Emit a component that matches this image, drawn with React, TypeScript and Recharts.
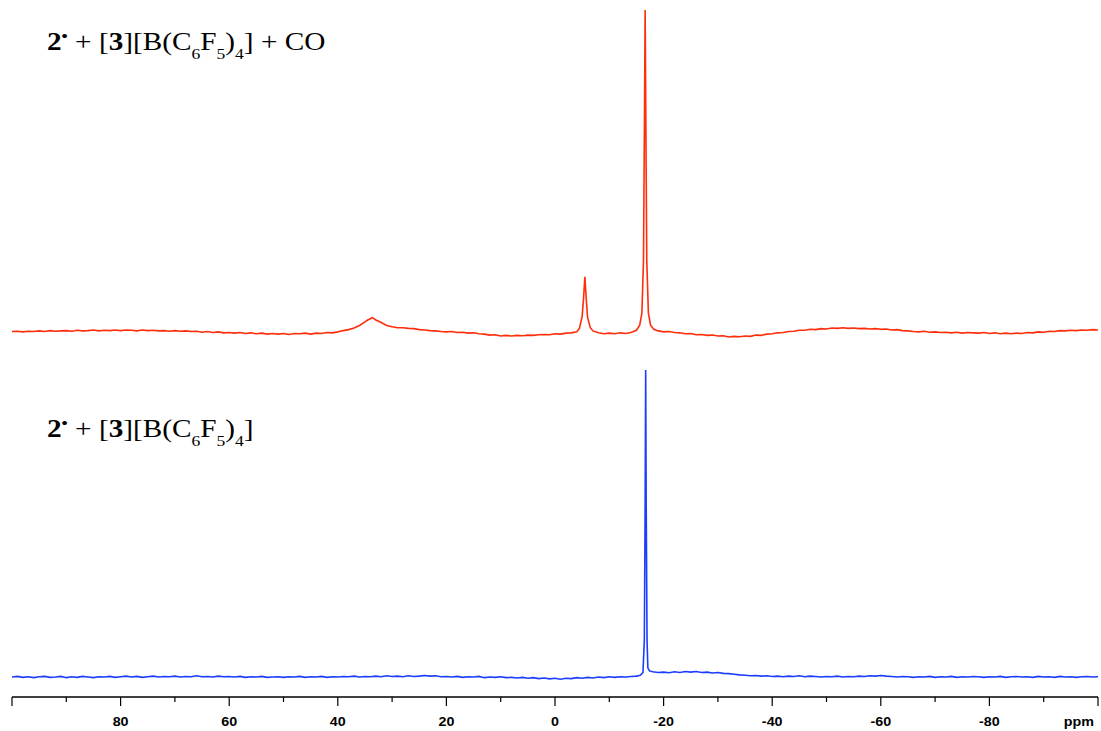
import React from "react";
import { LineChart, Line, XAxis, YAxis } from "recharts";

// chemical shift (ppm) / intensity pairs
const redTrace: [number, number][] = [
  [100, -0.2], [99, -0.1], [98, -0.3], [97, -0.1], [96, -0.2], [95, 0.0], [94, -0.2], [93, 0.1], [92, -0.1], [91, 0.0],
  [90, 0.1], [89, -0.1], [88, 0.2], [87, 0.0], [86, 0.1], [85, 0.3], [84, 0.0], [83, 0.2], [82, 0.1], [81, 0.3],
  [80, 0.1], [79, 0.3], [78, 0.2], [77, 0.0], [76, 0.3], [75, 0.1], [74, 0.2], [73, 0.0], [72, 0.1], [71, -0.1],
  [70, 0.1], [69, -0.1], [68, 0.0], [67, -0.2], [66, -0.1], [65, -0.4], [64, -0.2], [63, -0.5], [62, -0.3], [61, -0.6],
  [60, -0.5], [59, -0.7], [58, -0.5], [57, -0.8], [56, -0.6], [55, -0.9], [54, -0.7], [53, -1.0], [52, -0.8], [51, -1.0],
  [50, -0.8], [49, -1.1], [48, -0.8], [47, -0.9], [46, -0.7], [45, -1.0], [44, -0.7], [43, -0.8], [42, -0.5], [41, -0.6],
  [40, -0.3], [39, 0.1], [38, 0.4], [37, 0.9], [36, 1.7], [35, 2.8], [34.5, 3.4], [34, 3.8], [33.7, 4.1], [33.4, 3.9],
  [33, 3.4], [32, 2.6], [31, 1.7], [30, 1.3], [29, 1.0], [28, 1.0], [27, 0.8], [26, 0.7], [25, 0.4], [24, 0.3],
  [23, 0.1], [22, 0.0], [21, -0.2], [20, -0.3], [19, -0.2], [18, -0.5], [17, -0.4], [16, -0.7], [15, -0.6], [14, -0.9],
  [13, -1.0], [12, -1.3], [11, -1.2], [10, -1.6], [9, -1.4], [8, -1.6], [7, -1.4], [6, -1.5], [5, -1.3], [4, -1.4],
  [3, -1.2], [2, -1.1], [1, -1.2], [0, -0.9], [-1, -1.0], [-2, -0.7], [-3, -0.6], [-4, -0.3],
  [-4.5, 0.8], [-5, 4.5], [-5.25, 10], [-5.5, 16.9], [-5.75, 10], [-6, 4.2], [-6.5, 1.0], [-7, 0.0],
  [-8, -0.6], [-9, -0.9], [-10, -0.7], [-11, -0.9], [-12, -0.6], [-13, -0.8], [-14, -0.5], [-15, 0.2],
  [-15.6, 1.8], [-16, 5.5], [-16.3, 22], [-16.45, 60], [-16.6, 100], [-16.75, 60], [-16.9, 22], [-17.2, 5.5], [-17.6, 1.8], [-18.2, 0.5],
  [-19, 0.0], [-20, -0.3], [-21, -0.2], [-22, -0.5], [-23, -0.6], [-24, -0.9], [-25, -0.8], [-26, -1.2], [-27, -1.1], [-28, -1.4],
  [-29, -1.3], [-30, -1.6], [-31, -1.5], [-32, -1.9], [-33, -1.7], [-34, -1.8], [-35, -1.6], [-36, -1.7], [-37, -1.3], [-38, -1.4],
  [-39, -1.0], [-40, -0.9], [-41, -0.6], [-42, -0.5], [-43, -0.2], [-44, -0.1], [-45, 0.2], [-46, 0.2], [-47, 0.5], [-48, 0.4],
  [-49, 0.7], [-50, 0.6], [-51, 0.9], [-52, 0.8], [-53, 1.0], [-54, 0.8], [-55, 0.9], [-56, 0.7], [-57, 0.8], [-58, 0.6],
  [-59, 0.7], [-60, 0.5], [-61, 0.6], [-62, 0.3], [-63, 0.4], [-64, 0.1], [-65, 0.0], [-66, -0.2], [-67, -0.3], [-68, -0.1],
  [-69, -0.4], [-70, -0.3], [-71, -0.5], [-72, -0.4], [-73, -0.6], [-74, -0.4], [-75, -0.7], [-76, -0.5], [-77, -0.6], [-78, -0.7],
  [-79, -0.5], [-80, -0.8], [-81, -0.6], [-82, -0.9], [-83, -0.7], [-84, -0.9], [-85, -0.7], [-86, -0.8], [-87, -0.5], [-88, -0.6],
  [-89, -0.3], [-90, -0.4], [-91, -0.1], [-92, -0.2], [-93, 0.1], [-94, 0.0], [-95, 0.2], [-96, 0.1], [-97, 0.3], [-98, 0.2],
  [-99, 0.4], [-100, 0.3],
];

const blueTrace: [number, number][] = [
  [100, 0.0], [99, 0.2], [98, -0.1], [97, 0.1], [96, -0.2], [95, 0.1], [94, 0.2], [93, -0.1], [92, 0.0], [91, 0.2],
  [90, -0.2], [89, 0.1], [88, -0.1], [87, 0.2], [86, 0.0], [85, -0.2], [84, 0.1], [83, 0.0], [82, 0.2], [81, -0.1],
  [80, 0.1], [79, 0.3], [78, 0.0], [77, 0.2], [76, -0.1], [75, 0.1], [74, 0.3], [73, 0.0], [72, 0.2], [71, 0.1],
  [70, 0.3], [69, 0.0], [68, 0.2], [67, 0.1], [66, 0.4], [65, 0.1], [64, 0.2], [63, 0.0], [62, 0.3], [61, 0.1],
  [60, 0.2], [59, 0.0], [58, 0.2], [57, -0.1], [56, 0.1], [55, 0.0], [54, 0.2], [53, -0.1], [52, 0.0], [51, 0.1],
  [50, -0.1], [49, 0.1], [48, 0.0], [47, 0.2], [46, -0.1], [45, 0.1], [44, 0.0], [43, 0.2], [42, -0.1], [41, 0.1],
  [40, 0.0], [39, 0.2], [38, 0.1], [37, 0.3], [36, 0.0], [35, 0.2], [34, 0.1], [33, 0.3], [32, 0.1], [31, 0.4],
  [30, 0.2], [29, 0.3], [28, 0.1], [27, 0.4], [26, 0.2], [25, 0.3], [24, 0.5], [23, 0.3], [22, 0.4], [21, 0.1],
  [20, 0.2], [19, 0.0], [18, 0.2], [17, -0.1], [16, 0.1], [15, 0.0], [14, 0.2], [13, -0.2], [12, 0.0], [11, -0.1],
  [10, 0.1], [9, -0.2], [8, -0.1], [7, -0.3], [6, -0.1], [5, -0.4], [4, -0.2], [3, -0.5], [2, -0.3], [1, -0.6],
  [0, -0.4], [-1, -0.7], [-2, -0.4], [-3, -0.5], [-4, -0.2], [-5, -0.4], [-6, -0.1], [-7, -0.3], [-8, 0.0], [-9, -0.2],
  [-10, 0.1], [-11, -0.1], [-12, 0.1], [-13, 0.0], [-14, 0.2], [-15, 0.3], [-15.7, 0.6], [-16.2, 1.5],
  [-16.45, 12], [-16.6, 55], [-16.7, 100], [-16.8, 55], [-16.95, 12], [-17.1, 3.0], [-17.4, 2.0],
  [-18, 1.7], [-19, 1.5], [-20, 1.6], [-21, 1.4], [-22, 1.7], [-23, 1.5], [-24, 1.8], [-25, 1.6], [-26, 1.8], [-27, 1.5],
  [-28, 1.6], [-29, 1.3], [-30, 1.5], [-31, 1.2], [-32, 1.1], [-33, 0.9], [-34, 0.7], [-35, 0.6], [-36, 0.4], [-37, 0.5],
  [-38, 0.3], [-39, 0.4], [-40, 0.2], [-41, 0.3], [-42, 0.1], [-43, 0.3], [-44, 0.2], [-45, 0.4], [-46, 0.1], [-47, 0.3],
  [-48, 0.2], [-49, 0.0], [-50, 0.2], [-51, 0.1], [-52, 0.3], [-53, 0.0], [-54, 0.2], [-55, 0.1], [-56, 0.3], [-57, 0.2],
  [-58, 0.4], [-59, 0.3], [-60, 0.5], [-61, 0.3], [-62, 0.2], [-63, 0.0], [-64, 0.2], [-65, 0.1], [-66, -0.1], [-67, 0.1],
  [-68, 0.0], [-69, 0.2], [-70, -0.1], [-71, 0.1], [-72, 0.0], [-73, 0.2], [-74, -0.1], [-75, 0.1], [-76, 0.0], [-77, 0.2],
  [-78, 0.1], [-79, -0.1], [-80, 0.1], [-81, 0.0], [-82, 0.2], [-83, -0.1], [-84, 0.1], [-85, 0.2], [-86, 0.0], [-87, 0.1],
  [-88, -0.1], [-89, 0.2], [-90, 0.0], [-91, 0.1], [-92, -0.1], [-93, 0.2], [-94, 0.0], [-95, 0.1], [-96, -0.1], [-97, 0.1],
  [-98, 0.2], [-99, 0.0], [-100, 0.1],
];

const axisTicks = [100, 90, 80, 70, 60, 50, 40, 30, 20, 10, 0, -10, -20, -30, -40, -50, -60, -70, -80, -90, -100];
const axisLabels = [80, 60, 40, 20, 0, -20, -40, -60, -80];
const axisUnit = "ppm";

const RED = "#ff2d0a";
const BLUE = "#1c3cff";
const W = 1101;
const STRETCH = 1.17;

const toRows = (trace: [number, number][]) => trace.map(([ppm, v]) => ({ ppm, v }));

const AxisTick = (props: any) => {
  const { x, y, payload } = props;
  const value = payload.value;
  const major = value % 20 === 0;
  const labelStyle = {
    fontFamily: '"Liberation Sans", Arial, sans-serif',
    fontWeight: 700,
    fontSize: 13,
    fill: "#000",
  };
  return (
    <g>
      <line x1={x} y1={y} x2={x} y2={y + (major ? 9 : 5)} stroke="#000" strokeWidth={1.2} />
      {axisLabels.includes(value) && (
        <text transform={`translate(${x},${y + 29}) scale(1.1,1)`} textAnchor="middle" style={labelStyle}>
          {String(value)}
        </text>
      )}
      {value === -100 && (
        <text transform={`translate(${x - 4},${y + 29}) scale(1.1,1)`} textAnchor="end" style={labelStyle}>
          {axisUnit}
        </text>
      )}
    </g>
  );
};

const sub = { fontSize: 15, position: "relative" as const, top: 9 };
const dot = { fontSize: 15, fontWeight: 700, position: "relative" as const, top: -9 };

const labelBox = (top: number) => ({
  position: "absolute" as const,
  left: 47,
  top,
  fontFamily: '"Liberation Serif", "Times New Roman", serif',
  fontSize: 25,
  lineHeight: "25px",
  whiteSpace: "nowrap" as const,
  transform: `scaleX(${STRETCH})`,
  transformOrigin: "0 0",
  color: "#000",
});

const Formula = ({ withCO }: { withCO: boolean }) => (
  <>
    <b>2</b>
    <span style={dot}>•</span>
    {" + ["}
    <b>3</b>
    {"][B(C"}
    <span style={sub}>6</span>
    {"F"}
    <span style={sub}>5</span>
    {")"}
    <span style={sub}>4</span>
    {"]"}
    {withCO ? " + CO" : ""}
  </>
);

export default function App() {
  return (
    <div style={{ position: "absolute", left: 0, top: 0, width: W, height: 731, background: "#fff" }}>
      <div style={{ position: "absolute", left: 0, top: 0 }}>
        <LineChart width={W} height={365} data={toRows(redTrace)} margin={{ top: 10, right: 3, left: 12, bottom: 2 }}>
          <XAxis dataKey="ppm" type="number" domain={[-100, 100]} reversed allowDataOverflow hide />
          <YAxis type="number" domain={[-10, 100]} allowDataOverflow hide />
          <Line type="linear" dataKey="v" stroke={RED} strokeWidth={1.6} dot={false} isAnimationActive={false} />
        </LineChart>
      </div>
      <div style={{ position: "absolute", left: 0, top: 365 }}>
        <LineChart width={W} height={366} data={toRows(blueTrace)} margin={{ top: 5, right: 3, left: 12, bottom: 0 }}>
          <XAxis
            dataKey="ppm"
            type="number"
            domain={[-100, 100]}
            reversed
            allowDataOverflow
            ticks={axisTicks}
            interval={0}
            height={34}
            tickSize={0}
            tickMargin={0}
            tickLine={false}
            axisLine={{ stroke: "#000", strokeWidth: 1.3 }}
            tick={<AxisTick />}
          />
          <YAxis type="number" domain={[-6.5, 100]} allowDataOverflow hide />
          <Line type="linear" dataKey="v" stroke={BLUE} strokeWidth={1.6} dot={false} isAnimationActive={false} />
        </LineChart>
      </div>
      <div style={labelBox(29)}>
        <Formula withCO />
      </div>
      <div style={labelBox(416)}>
        <Formula withCO={false} />
      </div>
    </div>
  );
}
